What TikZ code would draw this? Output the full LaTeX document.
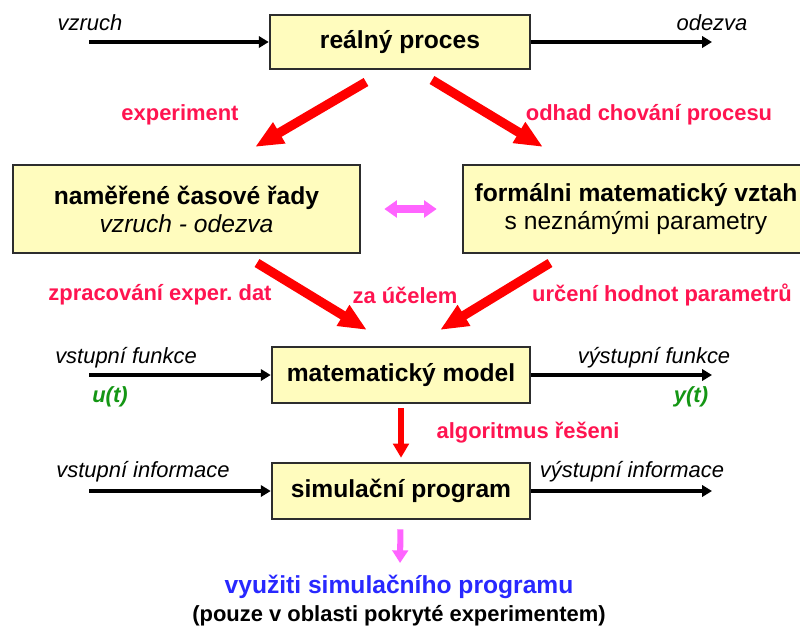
\documentclass[tikz,border=0pt]{standalone}
\usepackage{fontspec}
\setmainfont{Liberation Sans}
\usetikzlibrary{arrows.meta,positioning}
\definecolor{boxfill}{RGB}{255,252,190}
\definecolor{boxline}{RGB}{45,45,45}
\definecolor{labred}{RGB}{255,20,80}
\definecolor{arrred}{RGB}{255,0,0}
\definecolor{arrpink}{RGB}{255,100,255}
\definecolor{funcgreen}{RGB}{20,150,20}
\definecolor{useblue}{RGB}{40,40,255}
\frenchspacing

\begin{document}
\begin{tikzpicture}[x=0.025cm,y=-0.025cm,
        block/.style={draw=boxline,line width=1.8pt,fill=boxfill,align=center,inner sep=0pt,
            font=\fontsize{17.5}{20}\selectfont\bfseries},
        sig/.style={font=\fontsize{15.6}{18}\selectfont\itshape},
        note/.style={text=labred,font=\fontsize{15.6}{18}\selectfont\bfseries},
        flow/.style={line width=2.6pt,-{Triangle[length=7pt,width=8pt]}},
        bigred/.style={arrred,line width=6.6pt,-{Triangle[length=20pt,width=16pt]}}]
        \useasboundingbox (0,0) rectangle (800,626);
        \clip (0,0) rectangle (800,626);
        % boxes
        \node[block,minimum width=6.5cm,minimum height=1.35cm] (proces) at (400,42) {re\'alný proces};
        \node[block,minimum width=8.675cm,minimum height=2.2cm] (rady) at (186.5,209) {naměřené časové řady\\\mdseries\itshape vzruch - odezva};
        \node[block,minimum width=8.65cm,minimum height=2.2cm] (vztah) at (636,209) {formálni matematický vztah\\\mdseries s neznámými parametry};
        \node[block,minimum width=6.45cm,minimum height=1.4cm] (model) at (401,375) {matematický model};
        \node[block,minimum width=6.45cm,minimum height=1.4cm] (program) at (401,491) {simulační program};
        \node[text=useblue,font=\fontsize{17.5}{20}\selectfont\bfseries] (vyuziti) at (399,587) {využiti simulačního programu};
        \node[font=\fontsize{15.6}{18}\selectfont\bfseries,below=-0.08cm of vyuziti] (oblast) {(pouze v oblasti pokryté experimentem)};
        % free ends
        \coordinate (vin) at (89,42);
        \coordinate (vout) at (712,42);
        \coordinate (uin) at (89,375);
        \coordinate (yout) at (712,375);
        \coordinate (iin) at (89,491);
        \coordinate (iout) at (712,491);
        \coordinate (ea) at (366,82);
        \coordinate (eb) at (255,147);
        \coordinate (oa) at (432,80);
        \coordinate (ob) at (543,147);
        \coordinate (za) at (257,263);
        \coordinate (zb) at (367,330);
        \coordinate (pa) at (550,263);
        \coordinate (pb) at (440,330);
        \coordinate (vyend) at (400,563);
        % labels
        \node[sig] (vzruch) at (90,23) {vzruch};
        \node[sig] (odezva) at (712,23) {odezva};
        \node[note] (experiment) at (180,115) {experiment};
        \node[note] (odhad) at (649,115) {odhad chování procesu};
        \node[note] (zprac) at (160,295) {zpracování exper. dat};
        \node[note] (ucel) at (405,295) {za účelem};
        \node[note] (urceni) at (662,295) {určení hodnot parametrů};
        \node[sig] (vfunkce) at (126,358) {vstupní funkce};
        \node[sig] (yfunkce) at (654,358) {výstupní funkce};
        \node[text=funcgreen,font=\fontsize{15.6}{18}\selectfont\bfseries\itshape] (ut) at (110,397) {u(t)};
        \node[text=funcgreen,font=\fontsize{15.6}{18}\selectfont\bfseries\itshape] (yt) at (691,397) {y(t)};
        \node[note] (algo) at (528,433) {algoritmus řešeni};
        \node[sig] (vinfo) at (143,472) {vstupní informace};
        \node[sig] (yinfo) at (632,472) {výstupní informace};
        % connectors
        \draw[flow] (vin) -- (proces);
        \draw[flow] (proces) -- (vout);
        \draw[flow] (uin) -- (model);
        \draw[flow] (model) -- (yout);
        \draw[flow] (iin) -- (program);
        \draw[flow] (program) -- (iout);
        \draw[bigred] (ea) -- (eb);
        \draw[bigred] (oa) -- (ob);
        \draw[bigred] (za) -- (zb);
        \draw[bigred] (pa) -- (pb);
        \draw[arrpink,line width=5.7pt,{Triangle[length=9pt,width=12pt]}-{Triangle[length=9pt,width=12pt]},
            shorten <=0.575cm,shorten >=0.625cm] (rady) -- (vztah);
        \draw[arrred,line width=4.3pt,-{Triangle[length=10pt,width=11pt]},shorten <=0.1cm,shorten >=0.1cm] (model) -- (program);
        \draw[arrpink,line width=4.3pt,-{Triangle[length=9pt,width=11pt]},shorten <=0.225cm] (program) -- (vyend);
    \end{tikzpicture}
\end{document}
